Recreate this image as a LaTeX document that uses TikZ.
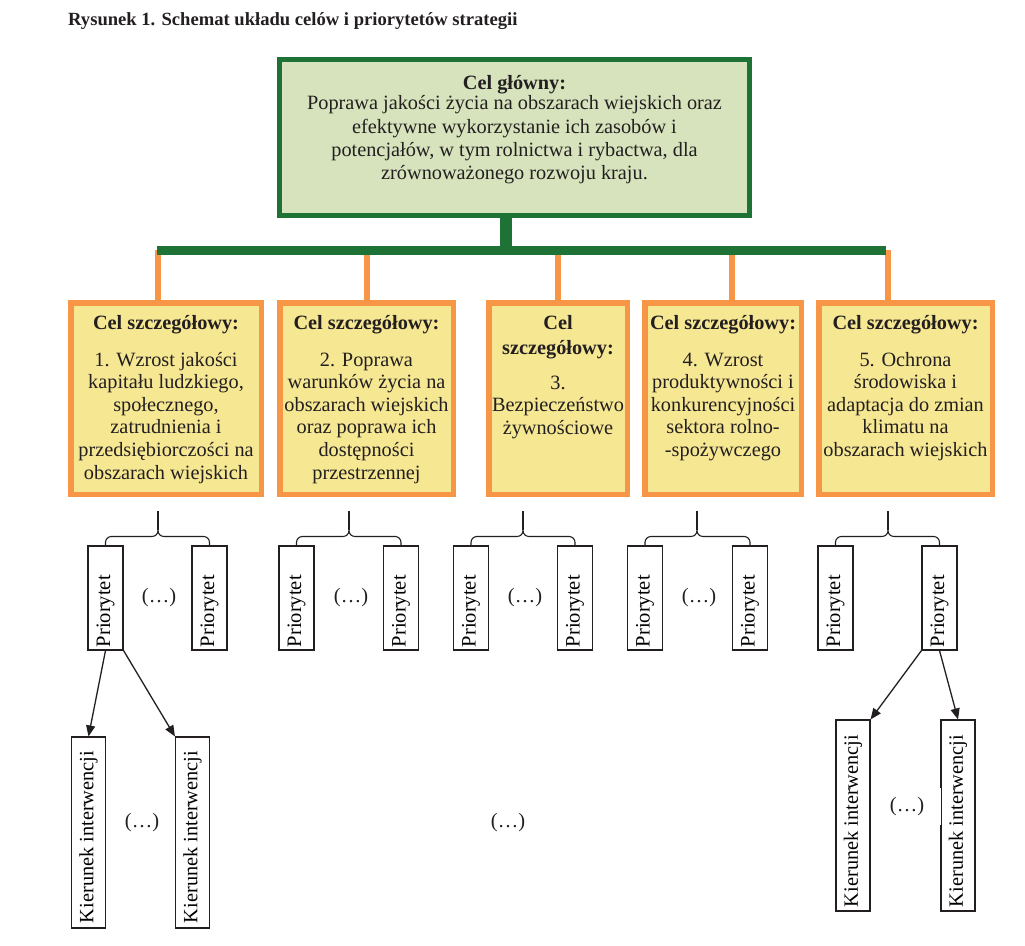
\documentclass[tikz,border=0pt]{standalone}
\usepackage{fontspec}
\setmainfont{Liberation Serif}
\usetikzlibrary{arrows.meta,calc}
\definecolor{gborder}{HTML}{1E7236}
\definecolor{gfill}{HTML}{D6E3BC}
\definecolor{oborder}{HTML}{F79646}
\definecolor{yfill}{HTML}{F6E792}
\definecolor{ink}{HTML}{231F20}
\newcommand\prbrace[3]{%
  \draw[brace] (#1.north) -- ++(0,-3) .. controls +(0,-3.3) and +(-3.3,0) .. ++(6,-6)
    -- ($(#3 |- #1.north)+(-6,-9)$) .. controls +(3.3,0) and +(0,3.6) .. ($(#3 |- #1.north)+(0,-15)$)
    .. controls +(0,3.6) and +(-3.3,0) .. ($(#3 |- #1.north)+(6,-9)$)
    -- ($(#2.north)+(-6,-9)$) .. controls +(3.3,0) and +(0,-3.3) .. ($(#2.north)+(0,-3)$) -- (#2.north);
  \draw[brace] ($(#3 |- #1.north)+(0,-15)$) -- (#3);
}
\begin{document}
\begin{tikzpicture}[x=1pt,y=-1pt,
  mainbox/.style={draw=gborder, fill=gfill, line width=5pt, minimum width=470pt, minimum height=156pt, inner sep=0pt},
  goalbox/.style={draw=oborder, fill=yfill, line width=5.5pt, inner sep=0pt, minimum height=191.5pt},
  goaltext/.style={anchor=north, align=center, inner sep=0pt, font=\fontsize{20.3}{22.6}\selectfont},
  prio/.style={draw=ink, line width=1.1pt, minimum width=35pt, minimum height=104pt, inner sep=0pt, font=\fontsize{20.5}{24}\selectfont},
  kier/.style={draw=ink, line width=1.1pt, minimum width=34pt, minimum height=191pt, inner sep=0pt, font=\fontsize{20.3}{24}\selectfont},
  dots/.style={inner sep=0pt, font=\fontsize{20.5}{24}\selectfont, text=ink},
  brace/.style={draw=ink, line width=1.1pt},
  arr/.style={draw=ink, line width=1.3pt, -{Triangle[length=11pt,width=9pt]}},
  stemline/.style={draw=gborder, line width=12pt},
  barline/.style={draw=gborder, line width=9pt},
  oline/.style={draw=oborder, line width=6pt},
]
\useasboundingbox (0,0) rectangle (1025,945);

% title
\node[anchor=base west, inner sep=0pt, font=\bfseries\fontsize{18.6}{22}\selectfont, text=ink] (title) at (68,25)
  {Rysunek 1. Schemat układu celów i priorytetów strategii};

% main goal
\node[mainbox] (main) at (514.5,137.5) {};
\node[goaltext, font=\fontsize{20.3}{23.3}\selectfont, text=ink] (maintext) at (514.5,75.5)
  {\textbf{Cel główny:}\\[-3.3pt]
   Poprawa jakości życia na obszarach wiejskich oraz\\
   efektywne wykorzystanie ich zasobów i\\
   potencjałów, w tym rolnictwa i rybactwa, dla\\
   zrównoważonego rozwoju kraju.};

% specific goals
\node[goalbox, minimum width=190.5pt] (b1) at (166,398.5) {};
\node[goalbox, minimum width=173.5pt] (b2) at (366.5,398.5) {};
\node[goalbox, minimum width=138.5pt] (b3) at (558,398.5) {};
\node[goalbox, minimum width=156.5pt] (b4) at (723,398.5) {};
\node[goalbox, minimum width=173.5pt] (b5) at (905.5,398.5) {};

\node[goaltext, text=ink] (t1) at ($(b1.north)+(0,14.8)$)
  {\textbf{Cel szczegółowy:}\\[14.4pt]
   1. Wzrost jakości\\ kapitału ludzkiego,\\ społecznego,\\ zatrudnienia i\\ przedsiębiorczości na\\ obszarach wiejskich};
\node[goaltext, text=ink] (t2) at ($(b2.north)+(0,14.8)$)
  {\textbf{Cel szczegółowy:}\\[14.4pt]
   2. Poprawa\\ warunków życia na\\ obszarach wiejskich\\ oraz poprawa ich\\ dostępności\\ przestrzennej};
\node[goaltext, text=ink] (t3) at ($(b3.north)+(0,14.8)$)
  {\textbf{Cel}\\[2.4pt]\textbf{szczegółowy:}\\[12.4pt]
   3.\\ Bezpieczeństwo\\ żywnościowe};
\node[goaltext, text=ink] (t4) at ($(b4.north)+(0,14.8)$)
  {\textbf{Cel szczegółowy:}\\[14.4pt]
   4. Wzrost\\ produktywności i\\ konkurencyjności\\ sektora rolno-\\ -spożywczego};
\node[goaltext, text=ink] (t5) at ($(b5.north)+(0,14.8)$)
  {\textbf{Cel szczegółowy:}\\[14.4pt]
   5. Ochrona\\ środowiska i\\ adaptacja do zmian\\ klimatu na\\ obszarach wiejskich};

% connectors from main goal
\coordinate (hub) at (506,250);
\coordinate (barL) at (157,250.5);
\coordinate (barR) at (886,250.5);
\coordinate (c1) at (158,250);
\coordinate (c2) at (367,250);
\coordinate (c3) at (558,250);
\coordinate (c4) at (732,250);
\coordinate (c5) at (888,250);
\foreach \i in {1,...,5} { \draw[oline] (c\i) -- (c\i |- b\i.north); }
\draw[barline] (barL) -- (barR);
\draw[stemline] (main.south -| hub) -- (hub);

% priorities
\newcommand\prtext{\rotatebox{90}{\makebox[98pt][l]{Priorytet}}}
\node[prio] (p1a) at (105.5,598) {\prtext};
\node[prio] (p1b) at (209.5,598) {\prtext};
\node[prio] (p2a) at (296.5,598) {\prtext};
\node[prio] (p2b) at (401,598) {\prtext};
\node[prio] (p3a) at (471,598) {\prtext};
\node[prio] (p3b) at (575,598) {\prtext};
\node[prio] (p4a) at (645,598) {\prtext};
\node[prio] (p4b) at (750,598) {\prtext};
\node[prio] (p5a) at (835.5,598) {\prtext};
\node[prio] (p5b) at (939.5,598) {\prtext};

\node[dots] (d1) at (159,598) {(\ldots)};
\node[dots] (d2) at (351,598) {(\ldots)};
\node[dots] (d3) at (525,598) {(\ldots)};
\node[dots] (d4) at (699,598) {(\ldots)};

% braces
\coordinate (s1) at (158,511);
\coordinate (s2) at (349,511);
\coordinate (s3) at (523,511);
\coordinate (s4) at (697,511);
\coordinate (s5) at (888,511);
\prbrace{p1a}{p1b}{s1}
\prbrace{p2a}{p2b}{s2}
\prbrace{p3a}{p3b}{s3}
\prbrace{p4a}{p4b}{s4}
\prbrace{p5a}{p5b}{s5}

% intervention directions
\node[kier] (k1a) at (88.5,832.5) {\rotatebox{90}{\makebox[181pt][l]{Kierunek interwencji}}};
\node[kier] (k1b) at (192.5,832.5) {\rotatebox{90}{\makebox[181pt][l]{Kierunek interwencji}}};
\node[kier] (k5a) at (853,815.5) {\rotatebox{90}{\makebox[183pt][l]{Kierunek interwencji}}};
\node[kier] (k5b) at (958,815.5) {\rotatebox{90}{\makebox[183pt][l]{Kierunek interwencji}}};

\draw[arr] (p1a.south) -- (k1a.north);
\draw[arr] (p1a.south east) -- (k1b.north west);
\draw[arr] (p5b.south west) -- (k5a.north east);
\draw[arr] (p5b.south) -- (k5b.north);

\node[dots] (d5) at (142,823) {(\ldots)};
\node[dots] (d6) at (508,823) {(\ldots)};
\node[dots, fill=white, minimum width=68pt, minimum height=37pt] (d7) at (907,806.5) {(\ldots)};
\end{tikzpicture}
\end{document}
